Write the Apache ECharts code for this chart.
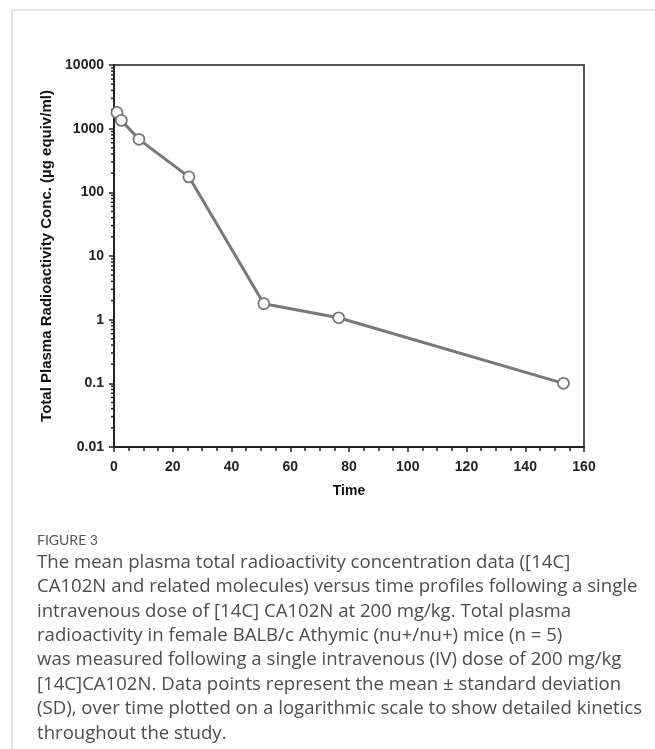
<!DOCTYPE html>
<html>
<head>
<meta charset="utf-8">
<script src="https://cdn.jsdelivr.net/npm/echarts@6/dist/echarts.min.js"></script>
<style>
html,body{margin:0;padding:0;background:#fff;}
#chart{width:655px;height:749px;}
</style>
</head>
<body>
<div id="chart"></div>
<script>
// ---- data ----
const timeHours = [1, 2.5, 8.5, 25.5, 51, 76.5, 153];
const concValues = [1800, 1350, 680, 175, 1.78, 1.07, 0.1];
const yDecades = [0.01, 0.1, 1, 10, 100, 1000, 10000];
const minorMultipliers = [2, 3, 4, 5, 6, 7, 8, 9];
const xAxisTitle = 'Time';
const yAxisTitle = 'Total Plasma Radioactivity Conc. (µg equiv/ml)';
const figureLabel = 'FIGURE 3';
const captionLines = [
  'The mean plasma total radioactivity concentration data ([14C]',
  'CA102N and related molecules) versus time profiles following a single',
  'intravenous dose of [14C] CA102N at 200 mg/kg. Total plasma',
  'radioactivity in female BALB/c Athymic (nu+/nu+) mice (n = 5)',
  'was measured following a single intravenous (IV) dose of 200 mg/kg',
  '[14C]CA102N. Data points represent the mean \u00B1 standard deviation',
  '(SD), over time plotted on a logarithmic scale to show detailed kinetics',
  'throughout the study.'
];

// minor tick positions for the log axis (2..9 within each decade)
const minorTickVals = [];
for (let i = 0; i < yDecades.length - 1; i++) {
  for (const m of minorMultipliers) minorTickVals.push([0, yDecades[i] * m]);
}

const chart = echarts.init(document.getElementById('chart'), null, {renderer: 'canvas'});
const FONT = 'Liberation Sans, Arial, sans-serif';
const CAP_FONT = '"Open Sans", sans-serif';

const graphics = [
  {type: 'line', shape: {x1: 12, y1: 10, x2: 655, y2: 10}, style: {stroke: '#c8c8c8', lineWidth: 1}},
  {type: 'line', shape: {x1: 12, y1: 10, x2: 12, y2: 749}, style: {stroke: '#c8c8c8', lineWidth: 1}},
  {type: 'text', left: 37, top: 533, style: {text: figureLabel, font: '14px Lato, sans-serif', fill: '#555'}}
];
captionLines.forEach((t, i) => {
  graphics.push({type: 'text', left: 37, top: 553 + i * 24.4,
    style: {text: t, font: '18.6px ' + CAP_FONT, fill: '#4d4d4d'}});
});

chart.setOption({
  animation: false,
  backgroundColor: '#fff',
  grid: {left: 114, right: 71, top: 65, bottom: 302, show: true, borderColor: '#555', borderWidth: 2, backgroundColor: 'transparent'},
  xAxis: {
    type: 'value', min: 0, max: 160, interval: 20,
    name: xAxisTitle, nameLocation: 'middle', nameGap: 37,
    nameTextStyle: {fontFamily: FONT, fontWeight: 'bold', fontSize: 14, color: '#111'},
    axisLine: {show: true, onZero: false, lineStyle: {color: '#222', width: 2}},
    axisTick: {show: true, inside: false, length: 5, lineStyle: {color: '#222', width: 1.5}},
    minorTick: {show: true, splitNumber: 4, length: 4, lineStyle: {color: '#222', width: 1.5}},
    axisLabel: {fontFamily: FONT, fontWeight: 'bold', fontSize: 14, color: '#222', margin: 13},
    splitLine: {show: false}
  },
  yAxis: {
    type: 'log', logBase: 10, min: 0.01, max: 10000,
    name: yAxisTitle, nameLocation: 'middle', nameGap: 54, nameRotate: 90,
    nameTextStyle: {fontFamily: FONT, fontWeight: 'bold', fontSize: 15, color: '#111'},
    axisLine: {show: true, lineStyle: {color: '#222', width: 2}},
    axisTick: {show: true, inside: false, length: 5, lineStyle: {color: '#222', width: 1.5}},
    axisLabel: {fontFamily: FONT, fontWeight: 'bold', fontSize: 14, color: '#222', margin: 10,
      formatter: v => String(+v.toPrecision(6))},
    splitLine: {show: false}
  },
  graphic: graphics,
  series: [
    {
      type: 'custom',
      silent: true,
      clip: false,
      data: minorTickVals,
      renderItem: (params, api) => {
        const p = api.coord([0, api.value(1)]);
        return {type: 'line', shape: {x1: p[0] - 3, y1: p[1], x2: p[0], y2: p[1]},
          style: {stroke: '#222', lineWidth: 1.5}};
      },
      z: 1
    },
    {
      type: 'line',
      data: timeHours.map((t, i) => [t, concValues[i]]),
      lineStyle: {color: '#787878', width: 3},
      symbol: 'circle', symbolSize: 11,
      itemStyle: {color: '#fff', borderColor: '#787878', borderWidth: 1.8},
      clip: false,
      z: 3
    }
  ]
});
</script>
</body>
</html>
